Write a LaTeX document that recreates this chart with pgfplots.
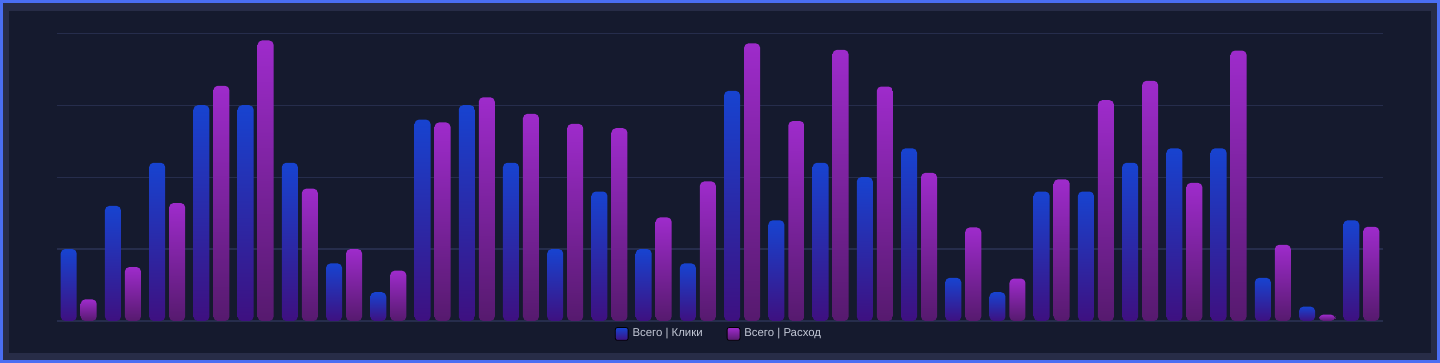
\documentclass[border=0pt]{standalone}
\usepackage{fontspec}
\setmainfont{Liberation Sans}
\usepackage{pgfplots}
\pgfplotsset{compat=1.18}
\usepackage{pgfplotstable}
\definecolor{outerblue}{HTML}{4A6EF2}
\definecolor{framegray}{HTML}{272C47}
\definecolor{bg}{HTML}{151A2E}
\definecolor{gridc}{HTML}{262D4C}
\definecolor{bluetop}{HTML}{1743D0}
\definecolor{bluebot}{HTML}{3E1080}
\definecolor{pinktop}{HTML}{9E2BCB}
\definecolor{pinkbot}{HTML}{561A6E}
\definecolor{legtext}{HTML}{C5CAD8}

\pgfplotstableread{
x clicks spend
0 5 1.5
1 8 3.75
2 11 8.2
3 15 16.35
4 15 19.5
5 11 9.2
6 4 5.0
7 2 3.5
8 14 13.8
9 15 15.55
10 11 14.4
11 5 13.7
12 9 13.4
13 5 7.2
14 4 9.7
15 16 19.3
16 7 13.9
17 11 18.85
18 10 16.3
19 12 10.3
20 3 6.5
21 2 2.95
22 9 9.85
23 9 15.35
24 11 16.7
25 12 9.6
26 12 18.8
27 3 5.3
28 1 0.45
29 7 6.55
}\datatable

\pgfplotsset{
 bluebar/.style={ybar, bar width=8pt, bar shift=-5pt, draw=none,
   top color=bluetop, bottom color=bluebot, rounded corners=2.2pt},
 pinkbar/.style={ybar, bar width=8pt, bar shift=5pt, draw=none,
   top color=pinktop, bottom color=pinkbot, rounded corners=2.2pt},
}

\begin{document}
\begin{tikzpicture}
\useasboundingbox (0,0) rectangle (720pt,181.5pt);
\fill[outerblue] (0,0) rectangle (720pt,181.5pt);
\fill[framegray] (1.5pt,1.5pt) rectangle (718.5pt,180pt);
\fill[bg] (4.5pt,5pt) rectangle (715.5pt,176pt);
\begin{axis}[
 at={(28.3pt,21pt)}, anchor=south west, scale only axis,
 width=663.4pt, height=143.85pt,
 xmin=-0.5, xmax=29.5, ymin=0, ymax=20,
 ytick={0,5,10,15,20}, yticklabels={}, xtick=\empty,
 ymajorgrids, major grid style={gridc, line width=0.6pt},
 axis line style={draw=none}, tick style={draw=none},
 clip=false,
 legend columns=2,
 legend style={at={(axis description cs:0.5,-0.045)}, anchor=center,
   draw=none, fill=none, text=legtext,
   font=\fontsize{5.7pt}{6.5pt}\selectfont,
   /tikz/every even column/.append style={column sep=10pt}},
 legend cell align=left,
]
\pgfplotsinvokeforeach{0,...,29}{
 \addplot[bluebar, forget plot, restrict x to domain=#1:#1] table[x=x,y=clicks]{\datatable};
 \addplot[pinkbar, forget plot, restrict x to domain=#1:#1] table[x=x,y=spend]{\datatable};
}
\addlegendimage{legend image code/.code={\shade[top color=bluetop, bottom color=bluebot, rounded corners=1pt] (0pt,-3.2pt) rectangle (6.4pt,3.2pt);}}
\addlegendentry{Всего | Клики}
\addlegendimage{legend image code/.code={\shade[top color=pinktop, bottom color=pinkbot, rounded corners=1pt] (0pt,-3.2pt) rectangle (6.4pt,3.2pt);}}
\addlegendentry{Всего | Расход}
\end{axis}
\end{tikzpicture}
\end{document}
